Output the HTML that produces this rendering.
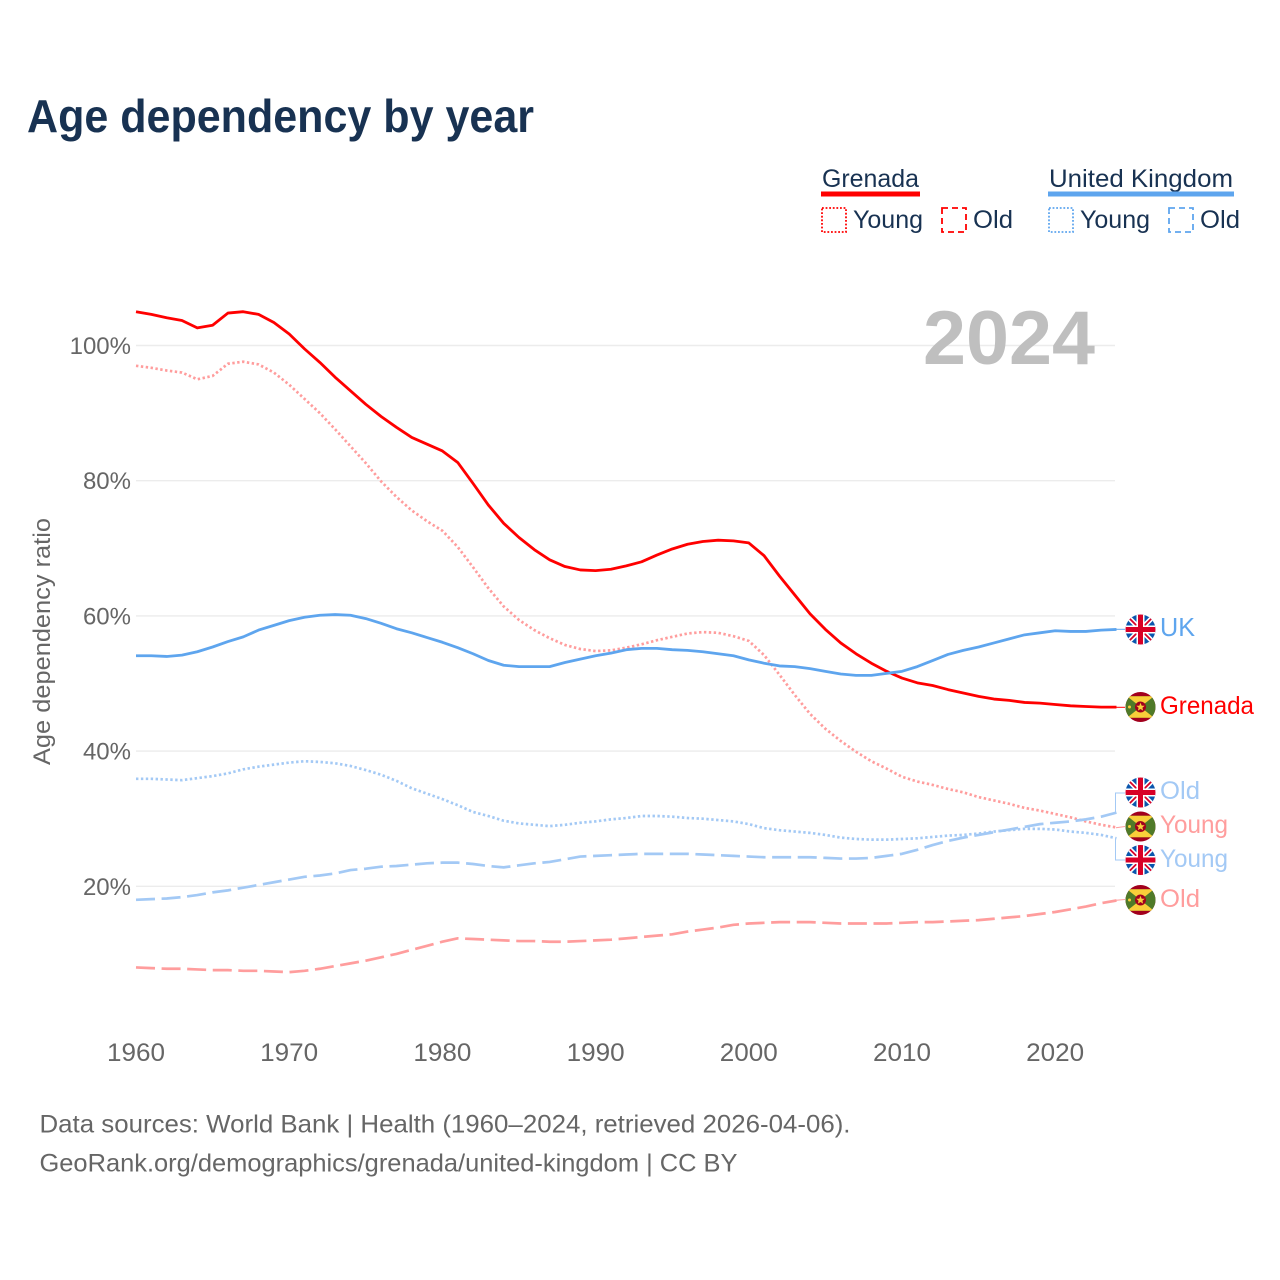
<!DOCTYPE html>
<html lang="en">
<head>
<meta charset="utf-8">
<title>Age dependency by year</title>
<style>
html,body{margin:0;padding:0;background:#fff;}
svg{display:block;font-family:"Liberation Sans",sans-serif;}
</style>
</head>
<body>
<svg id="chart" xmlns="http://www.w3.org/2000/svg" width="1280" height="1280" viewBox="0 0 1280 1280">
  <defs>
    <clipPath id="flag-clip"><circle cx="0" cy="0" r="15"/></clipPath>
    <g id="flag-uk" clip-path="url(#flag-clip)">
      <rect x="-15" y="-15" width="30" height="30" fill="#0b56ad"/>
      <path d="M-15-15L15 15M15-15L-15 15" stroke="#fff" stroke-width="5"/>
      <path d="M-15-15L15 15M15-15L-15 15" stroke="#d80027" stroke-width="1.800"/>
      <path d="M0-15V15M-15 0H15" stroke="#fff" stroke-width="8"/>
      <path d="M0-15V15M-15 0H15" stroke="#d80027" stroke-width="5"/>
    </g>
    <g id="flag-gd" clip-path="url(#flag-clip)">
      <rect x="-15" y="-15" width="30" height="30" fill="#a2001d"/>
      <path d="M-15-10.800H15V10.800H-15Z" fill="#4f7a28"/>
      <path d="M-13.500-10.800H13.500L0 0Z" fill="#f9cf3a"/>
      <path d="M-13.500 10.800H13.500L0 0Z" fill="#f9cf3a"/>
      <circle cx="0" cy="0" r="5.500" fill="#a2001d"/>
      <path d="M0-4.200L1.200-1.300L4.200-1.200L1.900 .7L2.600 3.600L0 2L-2.600 3.600L-1.900 .7L-4.200-1.200L-1.200-1.300Z" fill="#f9cf3a"/>
      <circle cx="-11" cy="0" r="1.500" fill="#f9cf3a"/>
    </g>
  </defs>

  <text x="27" y="132" font-size="46" font-weight="700" fill="#183252" textLength="507" lengthAdjust="spacingAndGlyphs">Age dependency by year</text>

  <g>
    <text x="822" y="187" font-size="25" fill="#183252" textLength="97" lengthAdjust="spacingAndGlyphs">Grenada</text>
    <rect x="821" y="191.500" width="99" height="5" fill="#ff0000"/>
    <rect x="822" y="208" width="24" height="24" fill="none" stroke="#ff0000" stroke-width="1.800" stroke-dasharray="1.800 1.800"/>
    <text x="853" y="228" font-size="25" fill="#183252" textLength="70" lengthAdjust="spacingAndGlyphs">Young</text>
    <rect x="942" y="208" width="24" height="24" fill="none" stroke="#ff0000" stroke-width="1.800" stroke-dasharray="6 4"/>
    <text x="973" y="228" font-size="25" fill="#183252" textLength="40" lengthAdjust="spacingAndGlyphs">Old</text>

    <text x="1049" y="187" font-size="25" fill="#183252" textLength="184" lengthAdjust="spacingAndGlyphs">United Kingdom</text>
    <rect x="1048" y="191.500" width="186" height="5" fill="#5ea5ee"/>
    <rect x="1049" y="208" width="24" height="24" fill="none" stroke="#5ea5ee" stroke-width="1.800" stroke-dasharray="1.800 1.800"/>
    <text x="1080" y="228" font-size="25" fill="#183252" textLength="70" lengthAdjust="spacingAndGlyphs">Young</text>
    <rect x="1169" y="208" width="24" height="24" fill="none" stroke="#5ea5ee" stroke-width="1.800" stroke-dasharray="6 4"/>
    <text x="1200" y="228" font-size="25" fill="#183252" textLength="40" lengthAdjust="spacingAndGlyphs">Old</text>
  </g>

  <g id="grid"></g>
  <g id="yticks"></g>
  <g id="xticks"></g>

  <text x="923" y="364" font-size="76" font-weight="700" fill="#bfbfbf" textLength="172" lengthAdjust="spacingAndGlyphs">2024</text>

  <text transform="translate(50 765) rotate(-90)" x="0" y="0" font-size="24" fill="#666666" textLength="247" lengthAdjust="spacingAndGlyphs">Age dependency ratio</text>

  <g id="series"></g>

  <g>
    <path d="M1116 629.300H1125" fill="none" stroke="#5ea5ee" stroke-width="1"/>
    <path d="M1116 707.300H1125" fill="none" stroke="#ff0000" stroke-width="1"/>
    <path d="M1115.500 812.700V793H1125" fill="none" stroke="#a3c9f5" stroke-width="1"/>
    <path d="M1116 827.700L1125 826.500" fill="none" stroke="#ff9d9d" stroke-width="1"/>
    <path d="M1115.500 838.300V860H1125" fill="none" stroke="#a3c9f5" stroke-width="1"/>
    <path d="M1116 900.300L1125 899.500" fill="none" stroke="#ff9d9d" stroke-width="1"/>

    <use href="#flag-uk" x="1140.500" y="629.500"/>
    <use href="#flag-gd" x="1140.500" y="707"/>
    <use href="#flag-uk" x="1140.500" y="792.500"/>
    <use href="#flag-gd" x="1140.500" y="826.500"/>
    <use href="#flag-uk" x="1140.500" y="860"/>
    <use href="#flag-gd" x="1140.500" y="900"/>

    <text x="1160" y="636" font-size="26" fill="#5ea5ee" textLength="35" lengthAdjust="spacingAndGlyphs">UK</text>
    <text x="1160" y="714" font-size="25" fill="#ff0000" textLength="94" lengthAdjust="spacingAndGlyphs">Grenada</text>
    <text x="1160" y="799" font-size="25" fill="#a3c9f5" textLength="40" lengthAdjust="spacingAndGlyphs">Old</text>
    <text x="1160" y="833" font-size="25" fill="#ff9d9d" textLength="68" lengthAdjust="spacingAndGlyphs">Young</text>
    <text x="1160" y="867" font-size="25" fill="#a3c9f5" textLength="68" lengthAdjust="spacingAndGlyphs">Young</text>
    <text x="1160" y="907" font-size="25" fill="#ff9d9d" textLength="40" lengthAdjust="spacingAndGlyphs">Old</text>
  </g>

  <text x="39.500" y="1132.500" font-size="25" fill="#666666" textLength="811" lengthAdjust="spacingAndGlyphs">Data sources: World Bank | Health (1960–2024, retrieved 2026-04-06).</text>
  <text x="39.500" y="1171.500" font-size="25" fill="#666666" textLength="698" lengthAdjust="spacingAndGlyphs">GeoRank.org/demographics/grenada/united-kingdom | CC BY</text>
</svg>

<script>
const years = [1960,1961,1962,1963,1964,1965,1966,1967,1968,1969,1970,1971,1972,1973,1974,1975,1976,1977,1978,1979,1980,1981,1982,1983,1984,1985,1986,1987,1988,1989,1990,1991,1992,1993,1994,1995,1996,1997,1998,1999,2000,2001,2002,2003,2004,2005,2006,2007,2008,2009,2010,2011,2012,2013,2014,2015,2016,2017,2018,2019,2020,2021,2022,2023,2024];
const grenadaTotal = [105.0,104.6,104.1,103.7,102.6,103.0,104.8,105.0,104.6,103.4,101.7,99.5,97.5,95.3,93.3,91.3,89.5,87.9,86.4,85.4,84.4,82.7,79.6,76.4,73.7,71.6,69.8,68.3,67.3,66.8,66.7,66.9,67.4,68.0,69.0,69.9,70.6,71.0,71.2,71.1,70.8,68.9,65.9,63.1,60.3,58.0,56.0,54.4,53.0,51.8,50.8,50.1,49.7,49.1,48.6,48.1,47.7,47.5,47.2,47.1,46.9,46.7,46.6,46.5,46.5];
const grenadaYoung = [97.0,96.7,96.3,96.0,95.0,95.5,97.3,97.6,97.2,96.0,94.2,92.1,90.0,87.6,85.1,82.6,79.9,77.6,75.6,74.0,72.6,70.2,67.2,64.1,61.4,59.4,57.9,56.7,55.7,55.1,54.8,54.9,55.3,55.8,56.4,56.9,57.4,57.6,57.5,57.0,56.3,54.2,51.3,48.3,45.5,43.3,41.5,39.9,38.5,37.4,36.2,35.5,35.0,34.4,33.9,33.2,32.7,32.2,31.6,31.2,30.7,30.2,29.6,29.1,28.7];
const grenadaOld = [8.0,7.9,7.8,7.8,7.7,7.6,7.6,7.5,7.5,7.4,7.3,7.5,7.8,8.2,8.6,9.0,9.5,10.0,10.6,11.2,11.8,12.3,12.2,12.1,12.0,11.9,11.9,11.8,11.8,11.9,12.0,12.1,12.3,12.5,12.7,12.9,13.3,13.6,13.9,14.3,14.5,14.6,14.7,14.7,14.7,14.6,14.5,14.5,14.5,14.5,14.6,14.7,14.7,14.8,14.9,15.0,15.2,15.4,15.6,15.9,16.2,16.6,17.0,17.5,17.9];
const ukTotal = [54.1,54.1,54.0,54.2,54.7,55.4,56.2,56.9,57.9,58.6,59.3,59.8,60.1,60.2,60.1,59.6,58.9,58.1,57.5,56.8,56.1,55.3,54.4,53.4,52.7,52.5,52.5,52.5,53.1,53.6,54.1,54.5,55.0,55.2,55.2,55.0,54.9,54.7,54.4,54.1,53.5,53.0,52.6,52.5,52.2,51.8,51.4,51.2,51.2,51.5,51.8,52.5,53.4,54.3,54.9,55.4,56.0,56.6,57.2,57.5,57.8,57.7,57.7,57.9,58.0];
const ukYoung = [35.9,35.9,35.8,35.7,36.0,36.3,36.7,37.3,37.7,38.0,38.3,38.5,38.4,38.2,37.8,37.2,36.5,35.6,34.5,33.7,32.9,32.0,31.0,30.4,29.7,29.3,29.1,28.9,29.1,29.4,29.6,29.9,30.1,30.4,30.4,30.3,30.1,30.0,29.8,29.6,29.2,28.6,28.3,28.1,27.9,27.6,27.2,27.0,26.9,26.9,27.0,27.1,27.3,27.5,27.6,27.8,28.1,28.3,28.5,28.5,28.4,28.1,27.9,27.6,27.1];
const ukOld = [18.0,18.1,18.2,18.4,18.7,19.1,19.4,19.8,20.2,20.6,21.0,21.4,21.6,21.9,22.4,22.6,22.9,23.0,23.2,23.4,23.5,23.5,23.3,23.0,22.8,23.1,23.4,23.6,24.0,24.4,24.5,24.6,24.7,24.8,24.8,24.8,24.8,24.7,24.6,24.5,24.4,24.3,24.3,24.3,24.3,24.2,24.1,24.1,24.2,24.5,24.8,25.4,26.1,26.7,27.2,27.6,28.0,28.4,28.8,29.2,29.4,29.6,29.9,30.3,30.9];
const xTickLabels = [1960,1970,1980,1990,2000,2010,2020];
const yTickLabels = [100,80,60,40,20];

const SVG_NS = 'http://www.w3.org/2000/svg';

function xScale(year) {
  return 136 + (year - 1960) * 15.32;
}
function yScale(value) {
  return 345.5 + (100 - value) * 6.76;
}
function linePath(values) {
  return values.map(function (v, i) {
    return (i ? 'L' : 'M') + xScale(years[i]).toFixed(2) + ' ' + yScale(v).toFixed(2);
  }).join('');
}
function drawLine(name, values, color, width, dash) {
  const p = document.createElementNS(SVG_NS, 'path');
  
  
  p.setAttribute('d', linePath(values));
  p.setAttribute('fill', 'none');
  p.setAttribute('stroke', color);
  p.setAttribute('stroke-width', width);
  p.setAttribute('stroke-linejoin', 'round');
  if (dash) p.setAttribute('stroke-dasharray', dash);
  document.getElementById('series').appendChild(p);
}

yTickLabels.forEach(function (t) {
  const g = document.createElementNS(SVG_NS, 'line');
  
  
  g.setAttribute('x1', xScale(1960));
  g.setAttribute('x2', 1115);
  g.setAttribute('y1', yScale(t));
  g.setAttribute('y2', yScale(t));
  g.setAttribute('stroke', '#ececec');
  g.setAttribute('stroke-width', '1.4');
  document.getElementById('grid').appendChild(g);

  const l = document.createElementNS(SVG_NS, 'text');
  
  
  l.setAttribute('x', 131);
  l.setAttribute('y', yScale(t) + 8.5);
  l.setAttribute('text-anchor', 'end');
  l.setAttribute('font-size', '24');
  l.setAttribute('fill', '#666666');
  l.textContent = t + '%';
  document.getElementById('yticks').appendChild(l);
});

xTickLabels.forEach(function (t) {
  const l = document.createElementNS(SVG_NS, 'text');
  
  
  l.setAttribute('x', xScale(t));
  l.setAttribute('y', 1061);
  l.setAttribute('text-anchor', 'middle');
  l.setAttribute('font-size', '25');
  l.setAttribute('fill', '#666666');
  l.setAttribute('textLength', '58');
  l.setAttribute('lengthAdjust', 'spacingAndGlyphs');
  l.textContent = t;
  document.getElementById('xticks').appendChild(l);
});

drawLine('line-grenada-old', grenadaOld, '#ff9d9d', 2.7, '19 6.6');
drawLine('line-grenada-young', grenadaYoung, '#ff9d9d', 2.7, '2.4 2.5');
drawLine('line-uk-old', ukOld, '#a3c9f5', 2.7, '19 6.6');
drawLine('line-uk-young', ukYoung, '#a3c9f5', 2.7, '2.4 2.5');
drawLine('line-grenada-total', grenadaTotal, '#ff0000', 2.8, '');
drawLine('line-uk-total', ukTotal, '#5ea5ee', 2.8, '');
</script>
</body>
</html>
